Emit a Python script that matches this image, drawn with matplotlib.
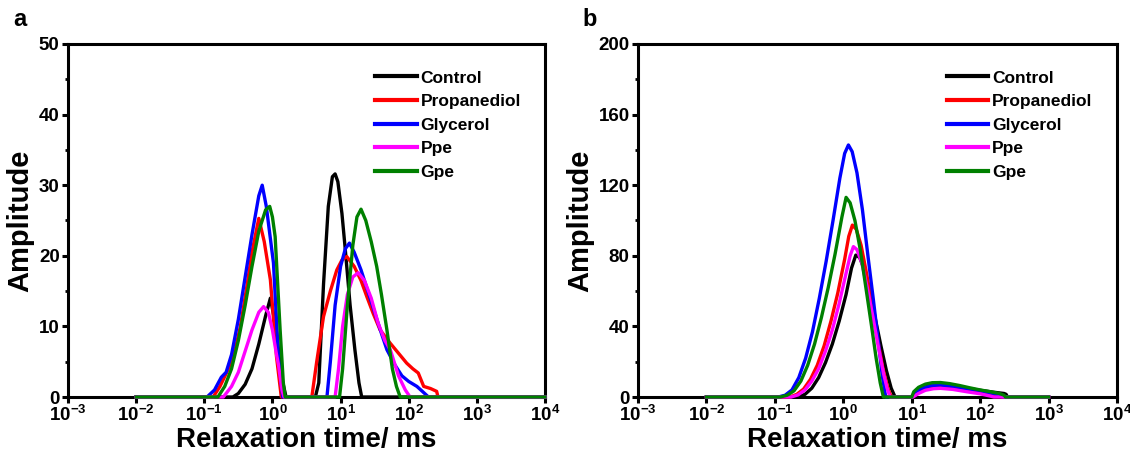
import matplotlib
matplotlib.use("Agg")
import matplotlib.pyplot as plt
from matplotlib.ticker import FixedLocator, MultipleLocator, FuncFormatter
import numpy as np

plt.rcParams['font.family'] = ['Liberation Sans', 'DejaVu Sans']
plt.rcParams['font.weight'] = 'bold'
plt.rcParams['mathtext.fontset'] = 'custom'
plt.rcParams['mathtext.rm'] = 'Liberation Sans:bold'
plt.rcParams['mathtext.bf'] = 'Liberation Sans:bold'

labels = ["Control", "Propanediol", "Glycerol", "Ppe", "Gpe"]
colors = ["#000000", "#ff0000", "#0000ff", "#ff00ff", "#008000"]

# ---- panel a: log10(time / ms) and amplitude ----
a_ctrl_logt = [-2, -0.58, -0.5, -0.4, -0.3, -0.2, -0.1, -0.03, 0.05, 0.13, 0.2,
               0.63, 0.68, 0.75, 0.82, 0.88, 0.92, 0.96, 1.02, 1.07, 1.14, 1.21, 1.27, 1.31, 4]
a_ctrl_amp = [0, 0, 0.5, 1.8, 4, 7.5, 11.5, 14, 10, 3, 0,
              0, 2, 16, 27, 31.2, 31.6, 30.5, 26, 20.8, 13, 6.7, 2, 0, 0]

a_prop_logt = [-2, -0.87, -0.77, -0.67, -0.57, -0.47, -0.376, -0.3, -0.2, -0.12, -0.03, 0.06, 0.13,
               0.578, 0.65, 0.75, 0.85, 0.945, 1.02, 1.09, 1.2, 1.3, 1.386, 1.48, 1.58, 1.73,
               1.85, 1.97, 2.06, 2.14, 2.22, 2.32, 2.41, 2.43, 4]
a_prop_amp = [0, 0, 1.5, 3.5, 5.7, 10, 15.6, 20.5, 25.3, 22, 16.6, 5.7, 0,
              0, 5, 11.4, 15, 18, 19.4, 19.9, 18.5, 16.5, 14.2, 11.8, 9.5, 7.6,
              6.2, 4.8, 4, 3.4, 1.5, 1.2, 0.8, 0, 0]

a_glyc_logt = [-2, -0.96, -0.85, -0.75, -0.68, -0.6, -0.5, -0.4, -0.3, -0.2, -0.15, -0.09,
               0.015, 0.088, 0.15,
               0.8, 0.85, 0.92, 1.0, 1.07, 1.13, 1.2, 1.3, 1.4, 1.5, 1.6, 1.68, 1.8, 1.9,
               2.0, 2.12, 2.2, 2.29, 4]
a_glyc_amp = [0, 0, 1, 2.8, 3.5, 6, 11, 17, 23, 28.5, 30, 27,
              19, 5.7, 0,
              0, 5, 13, 18.5, 21, 21.8, 20.5, 18, 15, 12, 9, 6.7, 4.5, 3,
              2.2, 1.5, 0.8, 0, 0]

a_ppe_logt = [-2, -0.72, -0.6, -0.5, -0.4, -0.3, -0.2, -0.13, -0.06, 0.0, 0.06, 0.09, 0.14, 0.17,
              0.92, 0.97, 1.03, 1.1, 1.18, 1.26, 1.35, 1.45, 1.55, 1.65, 1.73, 1.85, 1.95, 2.02, 4]
a_ppe_amp = [0, 0, 1.5, 3.5, 6.5, 9.5, 12, 12.8, 12, 9.5, 6, 4.5, 1, 0,
             0, 4, 10, 14.5, 17, 17.6, 16.5, 14, 10.5, 8, 6.7, 3, 1, 0, 0]

a_gpe_logt = [-2, -0.8, -0.7, -0.6, -0.5, -0.4, -0.3, -0.2, -0.1, -0.04, 0.0, 0.04, 0.113, 0.16, 0.187,
              0.985, 1.03, 1.1, 1.18, 1.24, 1.3, 1.37, 1.45, 1.53, 1.6, 1.68, 1.76, 1.82, 1.875, 4]
a_gpe_amp = [0, 0, 1.5, 4, 8, 13, 18.5, 23.5, 26.5, 27, 25.5, 22.7, 9.5, 2, 0,
             0, 4, 13, 21.5, 25.5, 26.6, 25, 22, 18.5, 14.5, 9.5, 4, 1.5, 0, 0]

# ---- panel b ----
b_ctrl_logt = [-2, -0.66, -0.56, -0.46, -0.36, -0.26, -0.16, -0.06, 0.04, 0.12, 0.183, 0.24,
               0.31, 0.39, 0.47, 0.55, 0.63, 0.7, 0.757,
               1.0, 1.05, 1.15, 1.3, 1.42, 1.6, 1.8, 2.0, 2.2, 2.35, 2.38, 2.4, 3]
b_ctrl_amp = [0, 0, 1.5, 5, 11, 19.5, 30, 43, 58, 73, 80.4, 79,
              72, 59, 44, 29, 15, 5, 0,
              0, 2.5, 5, 6.7, 7, 6.3, 5, 3.8, 2.7, 2, 1.5, 0, 0]

b_prop_logt = [-2, -0.78, -0.68, -0.58, -0.48, -0.38, -0.28, -0.18, -0.08, 0.02, 0.08, 0.133,
               0.19, 0.26, 0.34, 0.42, 0.5, 0.58, 0.65, 0.7,
               1.0, 1.06, 1.15, 1.3, 1.42, 1.6, 1.8, 2.0, 2.2, 2.3, 2.33, 3]
b_prop_amp = [0, 0, 1.5, 4.5, 10, 18, 29, 43, 59, 78, 91, 97.4,
              95, 86, 70, 52, 33, 16, 5, 0,
              0, 2, 4.3, 5.7, 6, 5.3, 4.2, 3, 1.5, 0.3, 0, 0]

b_glyc_logt = [-2, -0.95, -0.85, -0.75, -0.65, -0.55, -0.45, -0.35, -0.25, -0.15, -0.05, 0.02,
               0.075, 0.13, 0.2, 0.28, 0.36, 0.44, 0.51, 0.57, 0.62,
               1.0, 1.05, 1.15, 1.3, 1.42, 1.6, 1.8, 2.0, 2.2, 2.3, 2.35, 3]
b_glyc_amp = [0, 0, 1, 4, 11, 22, 37, 56, 77, 100, 124, 138,
              142.8, 139, 127, 106, 80, 55, 32, 12, 0,
              0, 2.5, 5, 6.5, 6.8, 6, 4.8, 3.5, 2, 0.8, 0, 0]

b_ppe_logt = [-2, -0.76, -0.66, -0.56, -0.46, -0.36, -0.26, -0.16, -0.06, 0.04, 0.1, 0.148,
              0.2, 0.27, 0.35, 0.43, 0.51, 0.59, 0.64, 0.684,
              1.02, 1.1, 1.2, 1.32, 1.42, 1.6, 1.8, 2.0, 2.15, 2.2, 3]
b_ppe_amp = [0, 0, 1.2, 4, 9, 16, 26, 38, 53, 70, 80, 85.2,
             83.5, 76, 62, 46, 29, 13, 5, 0,
             0, 2, 3.8, 4.7, 4.9, 4.3, 3, 1.8, 0.5, 0, 0]

b_gpe_logt = [-2, -0.92, -0.82, -0.72, -0.62, -0.52, -0.42, -0.32, -0.22, -0.12, -0.02, 0.041,
              0.1, 0.17, 0.25, 0.33, 0.41, 0.48, 0.54, 0.586,
              1.0, 1.03, 1.1, 1.2, 1.3, 1.42, 1.55, 1.7, 1.85, 2.0, 2.15, 2.28, 2.35, 2.37, 3]
b_gpe_amp = [0, 0, 1, 3.5, 9, 18, 30, 45, 62, 81, 102, 113.1,
             110, 100, 83, 62, 41, 22, 8, 0,
             0, 3, 5.5, 7.3, 8.1, 8.2, 7.6, 6.5, 5.2, 4, 3, 2, 1, 0, 0]

panel_a = [(a_ctrl_logt, a_ctrl_amp), (a_prop_logt, a_prop_amp), (a_glyc_logt, a_glyc_amp),
           (a_ppe_logt, a_ppe_amp), (a_gpe_logt, a_gpe_amp)]
panel_b = [(b_ctrl_logt, b_ctrl_amp), (b_prop_logt, b_prop_amp), (b_glyc_logt, b_glyc_amp),
           (b_ppe_logt, b_ppe_amp), (b_gpe_logt, b_gpe_amp)]


def sup_fmt(x, pos):
    return r'$\mathbf{10^{%d}}$' % int(round(np.log10(x)))


def draw_panel(ax, curves, ymax, ystep, letter):
    for (logt, amp), lab, col in zip(curves, labels, colors):
        ax.plot(10 ** np.array(logt), amp, color=col, lw=2.4, label=lab,
                clip_on=False, zorder=3, solid_joinstyle='round')

    ax.set_xscale('log')
    ax.set_xlim(1e-3, 1e4)
    ax.set_ylim(0, ymax)
    ax.xaxis.set_major_locator(FixedLocator([10.0 ** k for k in range(-3, 5)]))
    ax.xaxis.set_minor_locator(FixedLocator([]))
    ax.xaxis.set_major_formatter(FuncFormatter(sup_fmt))
    ax.yaxis.set_major_locator(MultipleLocator(ystep))
    ax.yaxis.set_minor_locator(MultipleLocator(ystep / 2))

    for s in ax.spines.values():
        s.set_linewidth(2.2)
    ax.tick_params(which='major', direction='out', length=4, width=2.2,
                   labelsize=13.5, pad=2)
    ax.tick_params(which='minor', direction='out', length=2.5, width=2)
    for t in ax.get_yticklabels():
        t.set_fontweight('bold')

    ax.set_xlabel("Relaxation time/ ms", fontsize=20, fontweight='bold', labelpad=1)
    ax.set_ylabel("Amplitude", fontsize=21, fontweight='bold', labelpad=3)

    leg = ax.legend(loc='upper left', bbox_to_anchor=(0.63, 0.945), frameon=False,
                    handlelength=2.4, handletextpad=0.2, labelspacing=0.49,
                    prop={'weight': 'bold', 'size': 12.5}, borderaxespad=0)
    for h in leg.get_lines():
        h.set_linewidth(3)

    ax.text(-0.115, 1.07, letter, transform=ax.transAxes, fontsize=17,
            fontweight='bold', va='center', ha='left')


fig = plt.figure(figsize=(11.3, 4.61), dpi=100)
ax_a = fig.add_axes([68 / 1130, 1 - 397 / 461, 477 / 1130, 353 / 461])
ax_b = fig.add_axes([638 / 1130, 1 - 397 / 461, 479 / 1130, 353 / 461])

draw_panel(ax_a, panel_a, 50, 10, 'a')
draw_panel(ax_b, panel_b, 200, 40, 'b')

fig.savefig("out.png", dpi=100)
